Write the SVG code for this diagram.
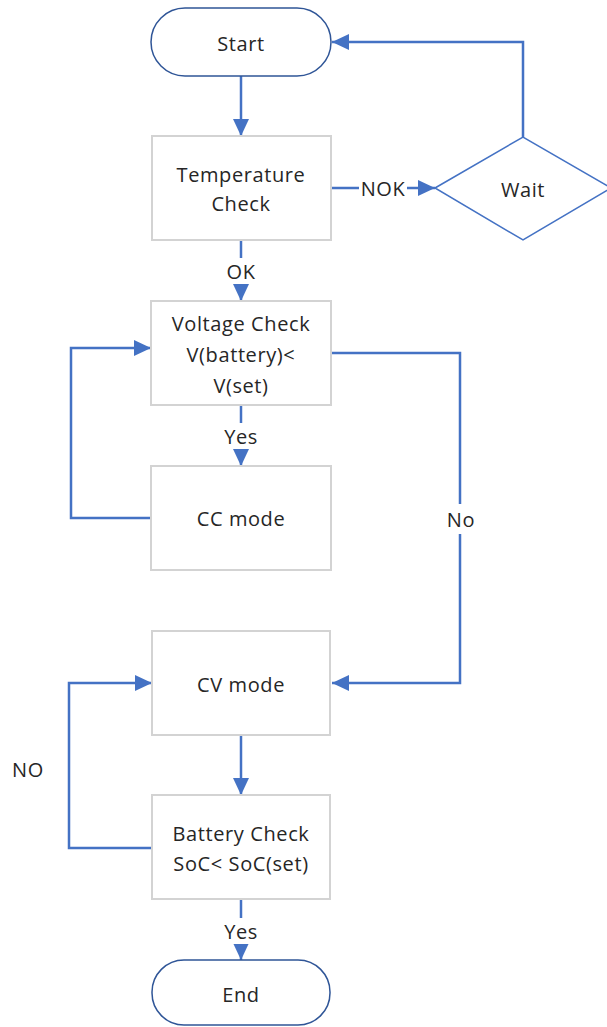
<svg xmlns="http://www.w3.org/2000/svg" width="607" height="1027" viewBox="0 0 607 1027">
<defs>
<marker id="ah" viewBox="0 0 10 10" refX="10" refY="5" markerWidth="17" markerHeight="16" markerUnits="userSpaceOnUse" orient="auto" preserveAspectRatio="none">
<path d="M0,0 L10,5 L0,10 z" fill="#4472C4"/>
</marker>
<style>
.box{fill:#fff;stroke:#D3D3D3;stroke-width:2}
.term{fill:#fff;stroke:#2F5597;stroke-width:1.5}
.dia{fill:#fff;stroke:#4472C4;stroke-width:1.5}
.t{font-family:"Open Sans","Noto Sans",sans-serif;font-size:20px;letter-spacing:0.6px;fill:#262626;text-anchor:middle;dominant-baseline:central}
.ln{fill:none;stroke:#4472C4;stroke-width:2.5}
.lb{fill:#fff}
</style>
</defs>
<g id="connectors">
<line class="ln" x1="241" y1="76" x2="241" y2="136" marker-end="url(#ah)"/>
<line class="ln" x1="331" y1="188" x2="435" y2="188" marker-end="url(#ah)"/>
<polyline class="ln" points="523,137 523,42 332,42" marker-end="url(#ah)"/>
<line class="ln" x1="241" y1="240" x2="241" y2="301" marker-end="url(#ah)"/>
<line class="ln" x1="241" y1="405" x2="241" y2="466" marker-end="url(#ah)"/>
<polyline class="ln" points="151,518 71,518 71,348 151,348" marker-end="url(#ah)"/>
<polyline class="ln" points="331,353 460,353 460,683 332,683" marker-end="url(#ah)"/>
<line class="ln" x1="241" y1="735" x2="241" y2="795" marker-end="url(#ah)"/>
<polyline class="ln" points="152,848 69,848 69,683 152,683" marker-end="url(#ah)"/>
<line class="ln" x1="241" y1="899" x2="241" y2="960" marker-end="url(#ah)"/>
<rect class="lb" x="359" y="176" width="48" height="24"/>
<text class="t" x="383" y="188">NOK</text>
<rect class="lb" x="224" y="258" width="34" height="26"/>
<text class="t" x="241" y="271">OK</text>
<rect class="lb" x="221" y="423" width="40" height="26"/>
<text class="t" x="241" y="436">Yes</text>
<rect class="lb" x="445" y="504" width="30" height="30"/>
<text class="t" x="461" y="519">No</text>
<rect class="lb" x="221" y="918" width="40" height="26"/>
<text class="t" x="241" y="931">Yes</text>
<text class="t" x="28" y="769">NO</text>
</g>
<g id="start"><rect class="term" x="151" y="8" width="180" height="68" rx="34"/><text class="t" x="241" y="43">Start</text></g>
<g id="temp"><rect class="box" x="152" y="136" width="179" height="104"/><text class="t" x="241" y="174">Temperature</text><text class="t" x="241" y="203">Check</text></g>
<g id="wait"><polygon class="dia" points="435,188 523,137 611,188 523,240"/><text class="t" x="523" y="189">Wait</text></g>
<g id="voltage"><rect class="box" x="151" y="301" width="180" height="104"/><text class="t" x="241" y="323">Voltage Check</text><text class="t" x="241" y="354">V(battery)&lt;</text><text class="t" x="241" y="385">V(set)</text></g>
<g id="cc"><rect class="box" x="151" y="466" width="180" height="104"/><text class="t" x="241" y="518">CC mode</text></g>
<g id="cv"><rect class="box" x="152" y="631" width="178" height="104"/><text class="t" x="241" y="684">CV mode</text></g>
<g id="battery"><rect class="box" x="152" y="795" width="178" height="104"/><text class="t" x="241" y="833">Battery Check</text><text class="t" x="241" y="863">SoC&lt; SoC(set)</text></g>
<g id="end"><rect class="term" x="152" y="960" width="178" height="65" rx="32"/><text class="t" x="241" y="994">End</text></g>
</svg>
